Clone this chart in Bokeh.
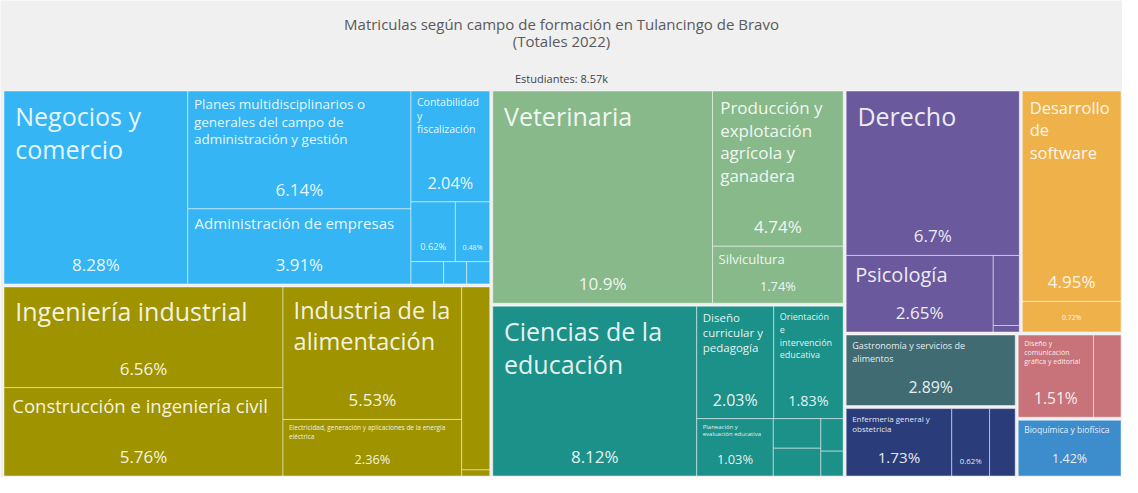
from bokeh.plotting import figure
from bokeh.models import ColumnDataSource, Range1d
from bokeh.embed import file_html
from bokeh.resources import INLINE
from bokeh.core.properties import value

# ---------------- data ----------------
TITLE_1 = "Matriculas según campo de formación en Tulancingo de Bravo"
TITLE_2 = "(Totales 2022)"
TOTAL_LABEL = "Estudiantes: 8.57k"

group_names = [
    "Administración y negocios",
    "Ingeniería, manufactura y construcción",
    "Agronomía y veterinaria",
    "Educación",
    "Ciencias sociales y derecho",
    "Tecnologías de la información y la comunicación",
    "Servicios",
    "Ciencias de la salud",
    "Artes y humanidades",
    "Ciencias naturales, matemáticas y estadística",
]

leaf_names = [
    "Negocios y comercio",
    "Planes multidisciplinarios o generales del campo de administración y gestión",
    "Administración de empresas",
    "Contabilidad y fiscalización",
    "Mercadotecnia y publicidad",
    "Administración pública",
    "Finanzas, banca y seguros",
    "Gestión de la calidad",
    "Comercio exterior",
    "Ingeniería industrial",
    "Construcción e ingeniería civil",
    "Industria de la alimentación",
    "Electricidad, generación y aplicaciones de la energía eléctrica",
    "Mecánica y metalurgia",
    "Electrónica y automatización",
    "Veterinaria",
    "Producción y explotación agrícola y ganadera",
    "Silvicultura",
    "Ciencias de la educación",
    "Diseño curricular y pedagogía",
    "Orientación e intervención educativa",
    "Planeación y evaluación educativa",
    "Formación docente en educación básica",
    "Educación física",
    "Formación docente en educación preescolar",
    "Didáctica de idiomas",
    "Derecho",
    "Psicología",
    "Criminología",
    "Trabajo social",
    "Desarrollo de software",
    "Telecomunicaciones",
    "Gastronomía y servicios de alimentos",
    "Enfermería general y obstetricia",
    "Terapia física y rehabilitación",
    "Nutrición",
    "Diseño y comunicación gráfica y editorial",
    "Humanidades",
    "Bioquímica y biofísica",
]

leaf_groups = [0] * 9 + [1] * 6 + [2] * 3 + [3] * 8 + [4] * 4 + [5] * 2 + [6] + [7] * 3 + [8] * 2 + [9]

leaf_shares = [
    8.28, 6.14, 3.91, 2.04, 0.62, 0.48, 0.17, 0.12, 0.12,
    6.56, 5.76, 5.53, 2.36, 1.20, 0.04,
    10.9, 4.74, 1.74,
    8.12, 2.03, 1.83, 1.03, 0.33, 0.31, 0.17, 0.13,
    6.7, 2.65, 0.43, 0.04,
    4.95, 0.72,
    2.89,
    1.73, 0.62, 0.42,
    1.51, 0.55,
    1.42,
]

# ---------------- style ----------------
group_colors = ["#35b5f3", "#9f9400", "#88b98b", "#1c918a", "#6a5a9d",
                "#efb24b", "#416b73", "#2a3d7a", "#c8737a", "#3d8ccb"]
BG = "#f0f0f0"
FONT = "Open Sans"
TW, TH = 1120.0, 388.0          # treemap extent (data units = px)
PHI = (1 + 5 ** 0.5) / 2

# ---------------- squarified treemap (d3 algorithm) ----------------
def squarify(vals, x0, y0, x1, y1):
    n = len(vals)
    rects = [None] * n
    i0 = i1 = 0
    total = float(sum(vals))
    while i0 < n:
        dx, dy = x1 - x0, y1 - y0
        s = vals[i1]
        i1 += 1
        mn = mx = s
        alpha = max(dy / dx, dx / dy) / (total * PHI)
        beta = s * s * alpha
        best = max(mx / beta, beta / mn)
        while i1 < n:
            nv = vals[i1]
            s2 = s + nv
            mn2, mx2 = min(mn, nv), max(mx, nv)
            beta = s2 * s2 * alpha
            r = max(mx2 / beta, beta / mn2)
            if r > best:
                break
            s, mn, mx, best = s2, mn2, mx2, r
            i1 += 1
        if dx < dy:
            ny = y0 + dy * s / total
            cx = x0
            for i in range(i0, i1):
                w = dx * vals[i] / s
                rects[i] = (cx, y0, cx + w, ny)
                cx += w
            y0 = ny
        else:
            nx = x0 + dx * s / total
            cy = y0
            for i in range(i0, i1):
                h = dy * vals[i] / s
                rects[i] = (x0, cy, nx, cy + h)
                cy += h
            x0 = nx
        total -= s
        i0 = i1
    return rects

# ---------------- text measuring ----------------
CW = {}
for c in "il.,:;'!|íìjI": CW[c] = 0.26
for c in "ft": CW[c] = 0.35
CW.update({"r": 0.41, "s": 0.47, "c": 0.48, "z": 0.46, "e": 0.56, "é": 0.56, "a": 0.56, "á": 0.56,
           "o": 0.6, "ó": 0.6, "n": 0.61, "ñ": 0.61, "u": 0.61, "ú": 0.61, "h": 0.61, "d": 0.61,
           "b": 0.61, "p": 0.61, "q": 0.61, "g": 0.54, "v": 0.5, "y": 0.5, "k": 0.52, "x": 0.5,
           "w": 0.78, "m": 0.93, "M": 0.9, "W": 0.9, "P": 0.6, "D": 0.71, "C": 0.63, "O": 0.78,
           "N": 0.74, "E": 0.57, "S": 0.55, "T": 0.55, "B": 0.64, "F": 0.53, "G": 0.72, "L": 0.53,
           "V": 0.6, "A": 0.63, "%": 0.82, " ": 0.26})
for c in "0123456789": CW[c] = 0.57

def em(t):
    return sum(CW.get(c, 0.6 if c.isupper() else 0.55) for c in t) * 1.02

def wrap(text, fs, maxw):
    lines, cur = [], ""
    for w in text.split():
        if em(w) * fs > maxw:
            return None
        cand = (cur + " " + w) if cur else w
        if em(cand) * fs <= maxw:
            cur = cand
        else:
            lines.append(cur)
            cur = w
    lines.append(cur)
    return lines

def pad_of(fs):
    return max(6.0, 0.45 * fs)

def fit_name(name, w, h):
    band = min(50.0, h * 0.5)
    hn = h - band - 10
    fs = 25.0
    while fs >= 6.0:
        lines = wrap(name, fs, w - pad_of(fs) - 8)
        if lines is not None and len(lines) * fs * 1.4 <= hn:
            return fs, lines
        fs -= 0.5
    return None

# ---------------- layout ----------------
gtot = [sum(s for s, g in zip(leaf_shares, leaf_groups) if g == gi) for gi in range(len(group_names))]
gorder = sorted(range(len(group_names)), key=lambda gi: -gtot[gi])
grects = squarify([gtot[gi] for gi in gorder], 0.0, 0.0, TW, TH)

rx0, ry0, rx1, ry1, rcol = [], [], [], [], []
nx_, ny_, nt_, nfs_ = [], [], [], []
px_, py_, pt_, pfs_ = [], [], [], []
GI = 1.5
for gi, (gx0, gy0, gx1, gy1) in zip(gorder, grects):
    idx = sorted([i for i, g in enumerate(leaf_groups) if g == gi], key=lambda i: -leaf_shares[i])
    lr = squarify([leaf_shares[i] for i in idx], gx0 + GI, gy0 + GI, gx1 - GI, gy1 - GI)
    for i, (x0, y0, x1, y1) in zip(idx, lr):
        rx0.append(x0); ry0.append(y0); rx1.append(x1); ry1.append(y1)
        rcol.append(group_colors[gi])
        w, h = x1 - x0, y1 - y0
        band = min(50.0, h * 0.5)
        pct = f"{leaf_shares[i]:.3g}%"
        fsp = min(17.0, 0.45 * band, 0.58 * w / 2.8)
        if fsp >= 6.8:
            px_.append((x0 + x1) / 2); py_.append(y1 - fsp / 2 - 11)
            pt_.append(pct); pfs_.append(f"{fsp:.1f}px")
            f = fit_name(leaf_names[i], w, h)
            if f is not None:
                fs, lines = f
                nx_.append(x0 + pad_of(fs)); ny_.append(y0 + max(4.0, 0.3 * fs))
                nt_.append("\n".join(lines)); nfs_.append(f"{fs:.1f}px")

# ---------------- figure ----------------
p = figure(width=1122, height=477, x_range=Range1d(-2, 1120), y_range=Range1d(TH, -89),
           output_backend="svg", toolbar_location=None, min_border=0,
           x_axis_location=None, y_axis_location=None)
p.xgrid.visible = False
p.ygrid.visible = False
p.outline_line_color = None
p.background_fill_color = BG
p.border_fill_color = BG

rsrc = ColumnDataSource(dict(x0=rx0, y0=ry0, x1=rx1, y1=ry1, c=rcol))
p.quad(left="x0", right="x1", top="y0", bottom="y1", source=rsrc, fill_color="c",
       line_color="white", line_alpha=0.45, line_width=1)

nsrc = ColumnDataSource(dict(x=nx_, y=ny_, t=nt_, fs=nfs_))
p.text(x="x", y="y", text="t", source=nsrc, text_font=value(FONT), text_font_size="fs",
       text_color="white", text_alpha=0.9, text_align="left", text_baseline="top",
       text_line_height=0.98)

psrc = ColumnDataSource(dict(x=px_, y=py_, t=pt_, fs=pfs_))
p.text(x="x", y="y", text="t", source=psrc, text_font=value(FONT), text_font_size="fs",
       text_color="white", text_alpha=0.9, text_align="center", text_baseline="middle")

tsrc = ColumnDataSource(dict(x=[559, 559], y=[-66, -49], t=[TITLE_1, TITLE_2]))
p.text(x="x", y="y", text="t", source=tsrc, text_font=value(FONT), text_font_size="15px",
       text_color="#5a5a5a", text_align="center", text_baseline="middle")
ssrc = ColumnDataSource(dict(x=[559], y=[-11], t=[TOTAL_LABEL]))
p.text(x="x", y="y", text="t", source=ssrc, text_font=value(FONT), text_font_size="11px",
       text_color="#444444", text_align="center", text_baseline="middle")

open("out.html", "w").write(file_html(p, INLINE))
